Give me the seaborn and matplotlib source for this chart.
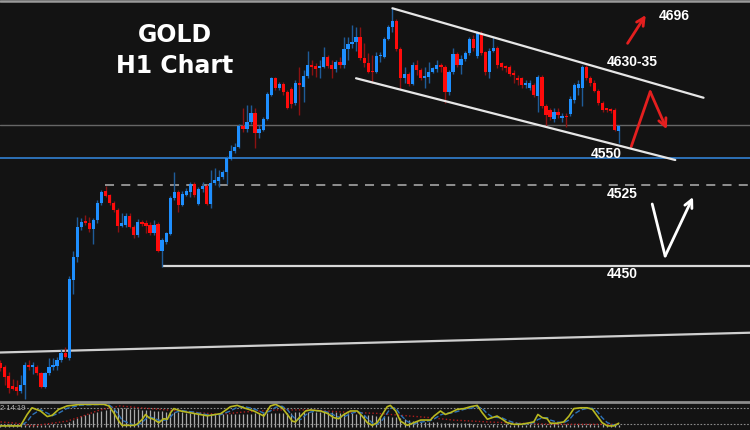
import matplotlib
matplotlib.use("Agg")
import matplotlib.pyplot as plt
from matplotlib.lines import Line2D
import numpy as np
import pandas as pd
import seaborn as sns

# XAUUSD H1 candles
opens = [4359, 4356, 4347, 4338, 4337, 4333, 4339, 4358, 4356, 4356, 4350, 4337, 4350, 4356, 4357, 4362,
         4369, 4364, 4437, 4458, 4486, 4491, 4490, 4484, 4492, 4508, 4519, 4516, 4508, 4502, 4487, 4488,
         4496, 4486, 4478, 4491, 4490, 4488, 4480, 4489, 4464, 4472, 4479, 4513, 4518, 4506, 4516, 4518,
         4526, 4507, 4521, 4524, 4507, 4527, 4529, 4532, 4537, 4549, 4557, 4560, 4580, 4577, 4584, 4592,
         4573, 4576, 4586, 4609, 4624, 4615, 4619, 4611, 4614, 4601, 4620, 4616, 4626, 4637, 4636, 4634,
         4635, 4644, 4637, 4633, 4639, 4637, 4651, 4656, 4658, 4663, 4643, 4638, 4631, 4630, 4645, 4644,
         4661, 4672, 4677, 4651, 4624, 4628, 4619, 4637, 4632, 4624, 4625, 4630, 4633, 4637, 4635, 4611,
         4630, 4647, 4637, 4642, 4648, 4661, 4645, 4666, 4649, 4630, 4650, 4652, 4638, 4636, 4635, 4629,
         4624, 4624, 4618, 4615, 4618, 4608, 4625, 4598, 4595, 4586, 4593, 4587, 4589, 4591, 4604, 4615,
         4615, 4635, 4624, 4620, 4612, 4601, 4596, 4596, 4595, 4575]
highs = [4362, 4358, 4351, 4345, 4344, 4348, 4360, 4362, 4360, 4358, 4351, 4351, 4364, 4364, 4365, 4372,
         4374, 4440, 4464, 4495, 4494, 4497, 4495, 4494, 4511, 4520, 4524, 4517, 4510, 4504, 4499, 4499,
         4499, 4488, 4493, 4492, 4492, 4491, 4492, 4491, 4476, 4481, 4515, 4537, 4520, 4519, 4522, 4528,
         4528, 4523, 4528, 4526, 4539, 4541, 4539, 4539, 4552, 4562, 4564, 4582, 4597, 4599, 4599, 4597,
         4581, 4588, 4611, 4625, 4625, 4621, 4621, 4613, 4616, 4623, 4635, 4632, 4650, 4641, 4638, 4641,
         4653, 4646, 4641, 4641, 4644, 4663, 4663, 4674, 4672, 4672, 4657, 4648, 4646, 4649, 4649, 4663,
         4674, 4690, 4679, 4653, 4635, 4630, 4639, 4641, 4634, 4635, 4639, 4635, 4641, 4638, 4637, 4632,
         4652, 4649, 4646, 4650, 4663, 4664, 4668, 4668, 4650, 4652, 4663, 4654, 4639, 4637, 4637, 4632,
         4627, 4625, 4623, 4623, 4620, 4627, 4627, 4600, 4597, 4597, 4597, 4592, 4592, 4608, 4620, 4623,
         4637, 4637, 4626, 4623, 4614, 4603, 4597, 4597, 4597, 4581]
lows = [4352, 4339, 4332, 4334, 4330, 4332, 4326, 4353, 4349, 4348, 4336, 4336, 4348, 4353, 4353, 4360,
        4364, 4362, 4424, 4453, 4483, 4488, 4481, 4470, 4490, 4506, 4514, 4506, 4500, 4481, 4486, 4486,
        4485, 4476, 4477, 4487, 4480, 4478, 4478, 4463, 4449, 4470, 4478, 4511, 4500, 4505, 4515, 4514,
        4514, 4506, 4518, 4506, 4504, 4525, 4523, 4531, 4526, 4548, 4555, 4559, 4574, 4574, 4582, 4559,
        4569, 4575, 4585, 4608, 4613, 4613, 4609, 4596, 4597, 4599, 4590, 4602, 4624, 4627, 4625, 4624,
        4634, 4634, 4624, 4630, 4634, 4634, 4641, 4652, 4650, 4641, 4635, 4629, 4620, 4629, 4639, 4643,
        4660, 4667, 4650, 4614, 4620, 4617, 4618, 4627, 4623, 4615, 4620, 4629, 4630, 4630, 4601, 4609,
        4628, 4635, 4628, 4640, 4646, 4650, 4643, 4646, 4627, 4624, 4649, 4634, 4632, 4630, 4626, 4620,
        4618, 4615, 4615, 4613, 4607, 4593, 4597, 4580, 4585, 4584, 4587, 4584, 4579, 4589, 4601, 4609,
        4598, 4623, 4617, 4611, 4599, 4593, 4593, 4592, 4575, 4564]
closes = [4355, 4346, 4336, 4335, 4333, 4339, 4358, 4356, 4358, 4350, 4337, 4350, 4356, 4358, 4362, 4369,
          4365, 4438, 4458, 4486, 4491, 4490, 4484, 4492, 4508, 4518, 4515, 4508, 4502, 4487, 4490, 4496,
          4486, 4478, 4491, 4489, 4487, 4480, 4488, 4464, 4474, 4480, 4513, 4518, 4506, 4517, 4519, 4526,
          4516, 4521, 4524, 4507, 4527, 4530, 4532, 4537, 4550, 4557, 4560, 4580, 4577, 4584, 4592, 4573,
          4577, 4586, 4610, 4624, 4615, 4619, 4611, 4597, 4600, 4620, 4618, 4626, 4637, 4635, 4633, 4635,
          4644, 4636, 4633, 4639, 4637, 4651, 4656, 4658, 4663, 4643, 4638, 4630, 4630, 4645, 4646, 4661,
          4672, 4677, 4651, 4624, 4628, 4619, 4637, 4632, 4624, 4626, 4630, 4634, 4637, 4635, 4611, 4630,
          4647, 4637, 4642, 4648, 4661, 4652, 4666, 4648, 4630, 4650, 4652, 4637, 4635, 4634, 4628, 4627,
          4623, 4618, 4620, 4620, 4609, 4625, 4598, 4590, 4588, 4593, 4590, 4589, 4588, 4605, 4618, 4619,
          4635, 4624, 4620, 4612, 4601, 4595, 4595, 4594, 4576, 4580]

# horizontal levels and drawn lines (bar index, price)
level_current = 4580.5
level_4550 = 4550
level_4525 = 4524.5
level_4450 = 4449.6
start_4525 = 25.8
start_4450 = 39.9
trend_x = [-0.12, 185.5]
trend_y = [4369.2, 4387.6]
chan_up_x = [97.0, 174.0]
chan_up_y = [4689.3, 4606.1]
chan_lo_x = [88.0, 167.0]
chan_lo_y = [4624.2, 4548.2]

# hand-drawn arrows
red_up_x = [155.2, 159.7]
red_up_y = [4656.7, 4683.0]
red_zig_x = [156.1, 160.8, 164.9]
red_zig_y = [4560.6, 4611.7, 4576.8]
white_zig_x = [161.3, 164.5, 171.4]
white_zig_y = [4507.3, 4458.9, 4513.8]

labels = ["4696", "4630-35", "4550", "4525", "4450"]
label_x = [163.0, 150.0, 146.2, 150.0, 150.0]
label_y = [4682.1, 4639.6, 4554.0, 4516.6, 4442.2]

# oscillator sub-window
osc_x = [0, 4.95, 6.6, 7.8, 9.9, 11.6, 12.8, 14.4, 16.5, 19.8, 25.6, 26.8, 28.0, 29.3, 30.1, 33.0, 33.8,
         35.1, 35.9, 36.7, 37.9, 39.2, 40.4, 41.3, 42.1, 42.9, 44.6, 47.8, 51.2, 54.5, 56.9, 58.6, 60.2,
         62.7, 65.2, 66.8, 68.1, 69.7, 71.0, 72.2, 73.0, 74.3, 75.5, 76.7, 79.2, 80.9, 82.5, 83.7, 85.0,
         86.6, 88.3, 89.5, 90.8, 92.0, 93.2, 94.5, 95.7, 96.5, 97.8, 99.0, 100.7, 102.3, 104.0, 106.4,
         107.3, 108.9, 110.1, 111.4, 113.0, 114.7, 116.3, 118.0, 119.2, 120.5, 121.7, 122.9, 124.2, 125.4,
         127.1, 128.7, 130.4, 132.0, 133.0, 134.1, 135.3, 136.1, 137.8, 139.4, 140.7, 141.9, 143.6, 145.2,
         146.5, 147.7, 148.9, 150.2, 151.8, 153.0]
osc_main = [14, 14, 57, 82, 70, 49, 54, 76, 89, 95, 95, 89, 64, 32, 16, 16, 20, 39, 57, 45, 39, 26, 41,
            39, 64, 79, 70, 61, 52, 60, 86, 91, 82, 70, 51, 89, 95, 82, 57, 32, 29, 51, 70, 74, 70, 61, 45,
            41, 57, 70, 70, 51, 26, 16, 26, 57, 86, 91, 70, 32, 16, 26, 36, 36, 51, 70, 57, 64, 76, 79, 86,
            91, 64, 39, 45, 51, 39, 26, 20, 20, 24, 29, 57, 45, 41, 24, 24, 29, 51, 79, 82, 82, 76, 51, 26,
            14, 14, 24]
osc_signal = [15, 14, 30, 55, 75, 62, 52, 62, 80, 92, 95, 93, 80, 55, 35, 17, 17, 27, 40, 48, 44, 35, 35,
              38, 48, 62, 72, 66, 56, 56, 70, 84, 87, 78, 62, 70, 84, 88, 75, 52, 40, 38, 55, 66, 72, 66,
              55, 47, 48, 60, 68, 62, 42, 25, 20, 36, 62, 80, 82, 55, 30, 22, 28, 34, 40, 55, 62, 62, 68,
              76, 80, 86, 80, 60, 48, 46, 44, 35, 26, 21, 22, 26, 38, 44, 45, 36, 28, 26, 36, 58, 74, 80,
              80, 68, 45, 26, 17, 18]
slow_x = [0, 4.0, 8.0, 16.5, 20.4, 24.6, 29.6, 34.5, 41.2, 47.7, 54.3, 60.0, 68.4, 76.6, 84.8, 93.2, 101.4,
          106.3, 112.0, 120.4, 128.6, 136.8, 145.2, 152.6]
slow_val = [29, 24, 14, 32, 51, 74, 89, 82, 74, 66, 57, 66, 74, 74, 66, 61, 51, 45, 36, 29, 24, 20, 20, 20]
hist = [2, 2, 3, 2, 2, 3, 2, 2, 3, 2, 2, 2, 2, 3, 2, 2, 3,
        5, 7, 9, 11, 12, 13, 14, 15, 16, 17, 18,
        19, 19, 19, 19, 18, 18, 18, 17,
        17, 17, 16, 16, 16, 15, 15, 15, 15, 15, 14, 14, 14, 14, 13, 13, 13, 13, 13,
        13, 13, 13, 13, 13, 13, 13, 13, 14, 14, 14, 14, 14, 14, 14, 14, 14, 14,
        15, 15, 15, 15, 15, 15, 15, 15, 15, 15, 15, 14, 14, 14, 14,
        13, 13, 12, 12, 12, 11, 11, 11, 11, 10, 10, 9,
        8, 7, 6, 6, 5, 5, 5, 5, 5, 4, 4, 4, 4, 4, 4, 4, 4,
        3, 2, 3, 2, 2, 3, 2, 2, 3, 2, 2, 3, 2, 2, 3, 2, 2, 3, 2, 2, 3, 2, 2, 3, 2, 2, 3, 2, 2, 3, 2, 2,
        3, 2, 2, 3, 2]

BG = "#131313"
sns.set_theme(style="dark", rc={"axes.facecolor": BG, "figure.facecolor": BG})
plt.rcParams["font.family"] = ["Liberation Sans", "DejaVu Sans"]

df = pd.DataFrame({"o": opens, "h": highs, "l": lows, "c": closes})
df["i"] = np.arange(len(df))
up = df["c"] >= df["o"]
body_col = np.where(up, "#1e8fff", "#ff0b0b")
wick_col = np.where(up, "#1f5c99", "#8c1212")

fig = plt.figure(figsize=(7.5, 4.3), dpi=100)
ax = fig.add_axes([0, 29 / 430, 1, 398 / 430])
XL = (-0.12, 185.5)

# price window
ax.axhline(level_current, color="#666666", lw=1.0, zorder=1)
ax.axhline(level_4550, color="#2f78c4", lw=1.3, zorder=1)
ax.hlines(level_4525, start_4525, XL[1], colors="#9a9a9a", lw=1.3, linestyles=(0, (5, 4)), zorder=1)
ax.hlines(level_4450, start_4450, XL[1], colors="#d8d8d8", lw=1.6, zorder=1)
ax.plot(trend_x, trend_y, color="#cfcfcf", lw=1.6, zorder=1)

ax.vlines(df["i"], df["l"], df["h"], colors=wick_col, lw=1.0, zorder=2)
ax.bar(df["i"], np.maximum((df["c"] - df["o"]).abs(), 1.2), bottom=np.minimum(df["o"], df["c"]),
       width=0.8, color=body_col, linewidth=0, zorder=3)

ax.plot(chan_up_x, chan_up_y, color="#e6e6e6", lw=1.6, zorder=4)
ax.plot(chan_lo_x, chan_lo_y, color="#e6e6e6", lw=1.6, zorder=4)

red = "#e41f1f"
arr = dict(arrowstyle="->", color=red, lw=2.0, mutation_scale=14, shrinkA=0, shrinkB=0)
ax.annotate("", xy=(red_up_x[1], red_up_y[1]), xytext=(red_up_x[0], red_up_y[0]), arrowprops=arr)
ax.plot(red_zig_x[:2], red_zig_y[:2], color=red, lw=2.0, solid_capstyle="round")
ax.annotate("", xy=(red_zig_x[2], red_zig_y[2]), xytext=(red_zig_x[1], red_zig_y[1]), arrowprops=arr)
warr = dict(arr, color="white")
ax.plot(white_zig_x[:2], white_zig_y[:2], color="white", lw=2.0, solid_capstyle="round")
ax.annotate("", xy=(white_zig_x[2], white_zig_y[2]), xytext=(white_zig_x[1], white_zig_y[1]), arrowprops=warr)

ax.text(43.1, 4664.5, "GOLD", color="white", fontsize=17, fontweight="bold", ha="center", va="center",
        family="DejaVu Sans")
ax.text(43.2, 4635.6, "H1 Chart", color="white", fontsize=17, fontweight="bold", ha="center", va="center",
        family="DejaVu Sans")
for t, x, y in zip(labels, label_x, label_y):
    ax.text(x, y, t, color="white", fontsize=10, fontweight="bold", ha="left", va="center")

ax.set_xlim(*XL)
ax.set_ylim(4324.1, 4694.2)
ax.set_axis_off()

# oscillator window
axh = fig.add_axes([0, 0, 1, 27 / 430])
axh.vlines(df["i"], 0, hist, colors="#d0d0d0", lw=0.9, alpha=0.8)
axh.set_xlim(*XL)
axh.set_ylim(-3, 24)
axh.set_axis_off()
axh.set_facecolor(BG)

ax2 = fig.add_axes([0, 0, 1, 27 / 430])
ax2.patch.set_visible(False)
for v in (80, 20):
    ax2.axhline(v, color="#8a8a8a", lw=0.8, ls=(0, (1.5, 1.5)))
sns.lineplot(x=slow_x, y=slow_val, ax=ax2, color="#b01c1c", lw=1.0, linestyle=":")
sns.lineplot(x=osc_x, y=osc_signal, ax=ax2, color="#2d72b8", lw=1.0, linestyle="--")
sns.lineplot(x=osc_x, y=osc_main, ax=ax2, color="#b8b820", lw=1.2)
ax2.text(-0.1, 79, "2 14:19", color="#b0b0b0", fontsize=5.5, ha="left", va="center")
ax2.set_xlim(*XL)
ax2.set_ylim(-1.4, 100)
ax2.set_axis_off()

fig.add_artist(Line2D([0, 1], [1 - 1.2 / 430, 1 - 1.2 / 430], color="#9a9a9a", lw=1.8))
fig.add_artist(Line2D([0, 1], [28 / 430, 28 / 430], color="#8c8c8c", lw=2.0))

fig.savefig("out.png", dpi=100, facecolor=BG)
